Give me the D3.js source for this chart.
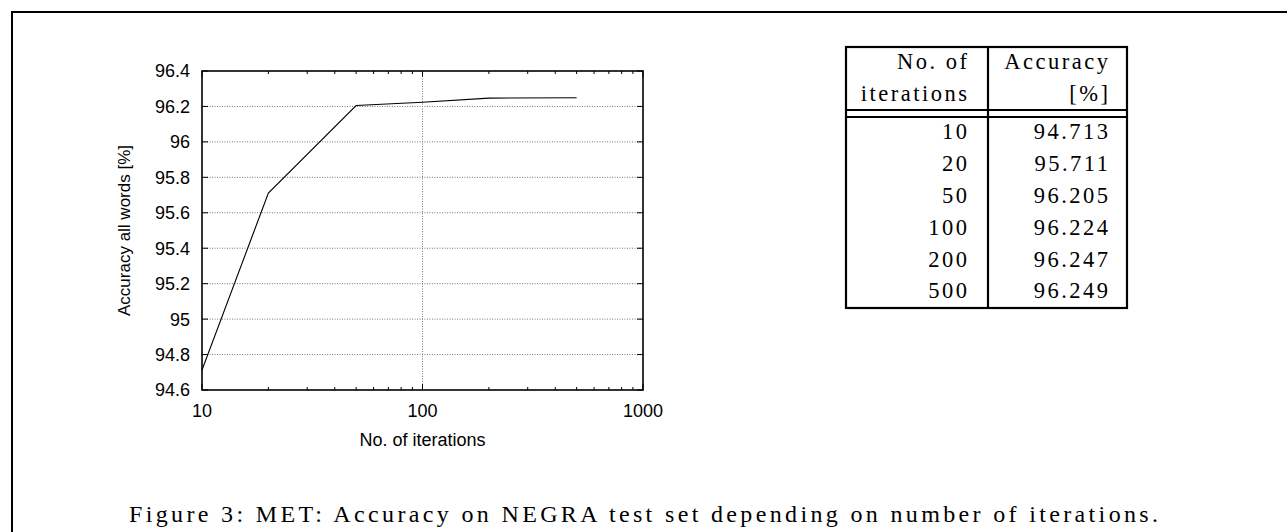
<!DOCTYPE html>
<html>
<head>
<meta charset="utf-8">
<script src="https://cdn.jsdelivr.net/npm/d3@7"></script>
<style>
  html, body { margin: 0; padding: 0; background: #fff; }
  svg { display: block; }
</style>
</head>
<body>
<div id="chart"></div>
<script>
// Data (also listed in the table on the right)
const iterations = [10, 20, 50, 100, 200, 500];
const accuracy = [94.713, 95.711, 96.205, 96.224, 96.247, 96.249];
const accuracyLabels = ['94.713', '95.711', '96.205', '96.224', '96.247', '96.249'];
const xTicks = [10, 100, 1000];
const yTicks = [94.6, 94.8, 95, 95.2, 95.4, 95.6, 95.8, 96, 96.2, 96.4];
const headerCol1 = ['No. of', 'iterations'];
const headerCol2 = ['Accuracy', '[%]'];
const caption = 'Figure 3: MET: Accuracy on NEGRA test set depending on number of iterations.';

const width = 1287, height = 532;
const sans = 'Liberation Sans, Arial, Helvetica, sans-serif';
const serif = 'Liberation Serif, Times New Roman, serif';

const svg = d3.select('#chart').append('svg')
    .attr('width', width)
    .attr('height', height);

// page frame (only top/left edges fall inside the picture)
svg.append('rect')
    .attr('x', 12).attr('y', 12)
    .attr('width', 1300).attr('height', 540)
    .attr('fill', 'none')
    .attr('stroke', '#000')
    .attr('stroke-width', 2);

// ---- gnuplot-like chart ----
const plot = { left: 202, right: 643, top: 71, bottom: 390 };

const x = d3.scaleLog()
    .domain([10, 1000])
    .range([plot.left, plot.right]);

const y = d3.scaleLinear()
    .domain([94.6, 96.4])
    .range([plot.bottom, plot.top]);

const g = svg.append('g');

// grid
g.selectAll('.ygrid')
    .data(yTicks.slice(1, -1))
    .join('line')
    .attr('class', 'ygrid')
    .attr('x1', plot.left).attr('x2', plot.right)
    .attr('y1', d => y(d)).attr('y2', d => y(d))
    .attr('stroke', '#777')
    .attr('stroke-width', 1)
    .attr('stroke-dasharray', '1,1.5');

g.selectAll('.xgrid')
    .data(xTicks.slice(1, -1))
    .join('line')
    .attr('class', 'xgrid')
    .attr('x1', d => x(d)).attr('x2', d => x(d))
    .attr('y1', plot.top).attr('y2', plot.bottom)
    .attr('stroke', '#777')
    .attr('stroke-width', 1)
    .attr('stroke-dasharray', '1,1.5');

// minor x ticks (log 2..9)
const minorX = [];
[10, 100].forEach(dec => {
    for (let k = 2; k <= 9; k++) minorX.push(dec * k);
});

function tickMarks(cls, data, len) {
    // bottom and top, pointing inward
    g.selectAll('.' + cls + 'b')
        .data(data)
        .join('line')
        .attr('x1', d => x(d)).attr('x2', d => x(d))
        .attr('y1', plot.bottom).attr('y2', plot.bottom - len)
        .attr('stroke', '#000');
    g.selectAll('.' + cls + 't')
        .data(data)
        .join('line')
        .attr('x1', d => x(d)).attr('x2', d => x(d))
        .attr('y1', plot.top).attr('y2', plot.top + len)
        .attr('stroke', '#000');
}
tickMarks('minx', minorX, 3);
tickMarks('majx', xTicks, 6);

// y ticks, left and right
g.selectAll('.ytl')
    .data(yTicks)
    .join('line')
    .attr('x1', plot.left).attr('x2', plot.left + 6)
    .attr('y1', d => y(d)).attr('y2', d => y(d))
    .attr('stroke', '#000');
g.selectAll('.ytr')
    .data(yTicks)
    .join('line')
    .attr('x1', plot.right).attr('x2', plot.right - 6)
    .attr('y1', d => y(d)).attr('y2', d => y(d))
    .attr('stroke', '#000');

// frame
g.append('rect')
    .attr('x', plot.left).attr('y', plot.top)
    .attr('width', plot.right - plot.left)
    .attr('height', plot.bottom - plot.top)
    .attr('fill', 'none')
    .attr('stroke', '#000')
    .attr('stroke-width', 1.6);

// tick labels
g.selectAll('.ylab')
    .data(yTicks)
    .join('text')
    .attr('x', plot.left - 12)
    .attr('y', d => y(d))
    .attr('dy', '0.36em')
    .attr('text-anchor', 'end')
    .attr('font-family', sans)
    .attr('font-size', 18)
    .text(d => d3.format('')(+d.toFixed(1)));

g.selectAll('.xlab')
    .data(xTicks)
    .join('text')
    .attr('x', d => x(d))
    .attr('y', 417)
    .attr('text-anchor', 'middle')
    .attr('font-family', sans)
    .attr('font-size', 18)
    .text(d => d);

// axis titles
g.append('text')
    .attr('x', x(100))
    .attr('y', 446)
    .attr('text-anchor', 'middle')
    .attr('font-family', sans)
    .attr('font-size', 18)
    .text('No. of iterations');

g.append('text')
    .attr('transform', `translate(130,${(plot.top + plot.bottom) / 2}) rotate(-90)`)
    .attr('text-anchor', 'middle')
    .attr('font-family', sans)
    .attr('font-size', 17)
    .text('Accuracy all words [%]');

// series
const line = d3.line()
    .x((d, i) => x(iterations[i]))
    .y(d => y(d));

g.append('path')
    .datum(accuracy)
    .attr('d', line)
    .attr('fill', 'none')
    .attr('stroke', '#000')
    .attr('stroke-width', 1.1);

// ---- table ----
const tbl = { left: 846, mid: 988, right: 1127, top: 47, head1: 110, head2: 117, bottom: 308 };
const rowH = (tbl.bottom - tbl.head2) / iterations.length;
const headH = (tbl.head1 - tbl.top) / headerCol1.length;
const t = svg.append('g');

t.append('rect')
    .attr('x', tbl.left).attr('y', tbl.top)
    .attr('width', tbl.right - tbl.left).attr('height', tbl.bottom - tbl.top)
    .attr('fill', 'none').attr('stroke', '#000').attr('stroke-width', 2.2);
[tbl.head1, tbl.head2].forEach(yy => {
    t.append('line')
        .attr('x1', tbl.left).attr('x2', tbl.right)
        .attr('y1', yy).attr('y2', yy)
        .attr('stroke', '#000').attr('stroke-width', 2.2);
});
t.append('line')
    .attr('x1', tbl.mid).attr('x2', tbl.mid)
    .attr('y1', tbl.top).attr('y2', tbl.bottom)
    .attr('stroke', '#000').attr('stroke-width', 2.2);

// baseline sits ~0.7 of the row height down (LaTeX strut)
function cell(txt, xr, rowTop, h) {
    t.append('text')
        .attr('x', xr + 2.5)
        .attr('y', rowTop + h * 0.7)
        .attr('text-anchor', 'end')
        .attr('font-family', serif)
        .attr('font-size', 22.5)
        .attr('letter-spacing', 2.5)
        .text(txt);
}

headerCol1.forEach((s, i) => cell(s, 967, tbl.top + i * headH, headH));
headerCol2.forEach((s, i) => cell(s, 1108, tbl.top + i * headH, headH));
iterations.forEach((it, i) => {
    const top = tbl.head2 + i * rowH;
    cell(String(it), 967, top, rowH);
    cell(accuracyLabels[i], 1108, top, rowH);
});

// ---- caption ----
svg.append('text')
    .attr('x', 129)
    .attr('y', 522)
    .attr('font-family', serif)
    .attr('font-size', 24)
    .attr('textLength', 1029)
    .attr('lengthAdjust', 'spacing')
    .text(caption);
</script>
</body>
</html>
